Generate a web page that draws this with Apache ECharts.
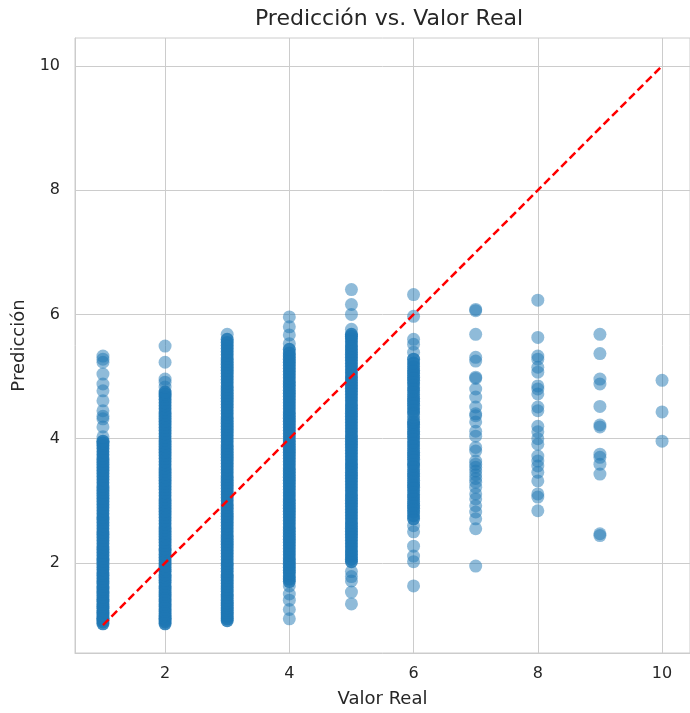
<!DOCTYPE html>
<html>
<head>
<meta charset="utf-8">
<script src="https://cdn.jsdelivr.net/npm/echarts@6/dist/echarts.min.js"></script>
<style>
  html, body { margin: 0; padding: 0; background: #fff; }
  #chart { width: 690px; height: 713px; }
</style>
</head>
<body>
<div id="chart"></div>
<script>
  const realValues = [1, 2, 3, 4, 5, 6, 7, 8, 9, 10];
  // bandas densas de cada columna (miles de puntos solapados en el original)
  const dense1 = [1.02,1.05,1.08,1.1,1.13,1.16,1.2,1.23,1.27,1.3,1.34,1.38,1.41,1.45,1.5,1.54,1.58,1.62,1.67,1.71,
    1.75,1.8,1.84,1.89,1.93,1.98,2.03,2.07,2.12,2.17,2.22,2.26,2.31,2.36,2.41,2.46,2.5,2.55,2.6,2.65,2.7,2.74,
    2.79,2.84,2.89,2.94,2.99,3.04,3.09,3.14,3.19,3.24,3.29,3.34,3.39,3.44,3.49,3.54,3.59,3.64,3.69,3.74,3.79,
    3.84,3.89,3.93,3.96];
  const dense2 = [1.02,1.05,1.08,1.11,1.15,1.18,1.22,1.26,1.3,1.34,1.38,1.42,1.46,1.5,1.55,1.59,1.63,1.68,1.72,
    1.77,1.81,1.86,1.9,1.95,2.0,2.04,2.09,2.14,2.19,2.23,2.28,2.33,2.38,2.43,2.48,2.53,2.58,2.63,2.68,2.73,2.78,
    2.83,2.88,2.93,2.98,3.03,3.08,3.13,3.18,3.23,3.28,3.33,3.38,3.43,3.48,3.53,3.58,3.63,3.68,3.73,3.78,3.83,
    3.88,3.93,3.98,4.03,4.08,4.13,4.18,4.23,4.28,4.33,4.38,4.43,4.48,4.53,4.58,4.63,4.68,4.72,4.75];
  const dense3 = [1.07,1.1,1.13,1.16,1.2,1.24,1.28,1.32,1.36,1.4,1.45,1.49,1.54,1.58,1.63,1.67,1.72,1.77,1.81,
    1.86,1.91,1.96,2.0,2.05,2.1,2.15,2.2,2.25,2.3,2.35,2.4,2.45,2.5,2.55,2.6,2.65,2.7,2.75,2.8,2.85,2.9,2.95,
    3.0,3.05,3.1,3.15,3.2,3.25,3.3,3.35,3.4,3.45,3.5,3.55,3.6,3.65,3.7,3.75,3.8,3.85,3.9,3.95,4.0,4.05,4.1,
    4.15,4.2,4.25,4.3,4.35,4.4,4.45,4.5,4.55,4.6,4.65,4.7,4.75,4.8,4.85,4.9,4.95,5.0,5.05,5.1,5.15,5.2,5.25,
    5.3,5.35,5.4,5.45,5.5,5.55,5.6];
  const dense4 = [1.7,1.74,1.79,1.84,1.88,1.93,1.98,2.03,2.08,2.13,2.18,2.23,2.28,2.33,
    2.38,2.43,2.48,2.53,2.58,2.63,2.68,2.73,2.78,2.83,2.88,2.93,2.98,3.03,3.08,3.13,3.18,3.23,3.28,3.33,3.38,
    3.43,3.48,3.53,3.58,3.63,3.68,3.73,3.78,3.83,3.88,3.93,3.98,4.03,4.08,4.13,4.18,4.23,4.28,4.33,4.38,4.43,
    4.48,4.53,4.58,4.63,4.68,4.73,4.78,4.83,4.88,4.93,4.98,5.03,5.08,5.13,5.18,5.23,5.28,5.33,5.38,5.44];
  const dense5 = [2.02,2.06,2.11,2.16,2.21,2.26,2.31,2.36,2.41,2.46,2.51,2.56,2.61,
    2.66,2.71,2.76,2.81,2.86,2.91,2.96,3.01,3.06,3.11,3.16,3.21,3.26,3.31,3.36,3.41,3.46,3.51,3.56,3.61,3.66,
    3.71,3.76,3.81,3.86,3.91,3.96,4.01,4.06,4.11,4.16,4.21,4.26,4.31,4.36,4.41,4.46,4.51,4.56,4.61,4.66,4.71,
    4.76,4.81,4.86,4.91,4.96,5.01,5.06,5.11,5.16,5.21,5.26,5.31,5.36,5.41,5.46,5.51,5.56,5.61,5.65,5.68];
  const dense6 = [2.71,2.76,2.82,2.88,2.93,2.99,3.05,3.1,3.16,3.22,3.27,3.33,3.39,
    3.44,3.5,3.56,3.61,3.67,3.73,3.78,3.84,3.9,3.95,4.01,4.07,4.12,4.18,4.23,4.27,4.43,4.48,4.54,4.6,
    4.65,4.71,4.77,4.82,4.88,4.94,4.99,5.05,5.1,5.16,5.22,5.28];
  // puntos sueltos fuera de las bandas
  const sparse1 = [4.03,4.19,4.32,4.36,4.45,4.61,4.77,4.88,5.04,5.23,5.28,5.33];
  const sparse2 = [4.83,4.91,4.96,5.23,5.49];
  const sparse3 = [5.68];
  const sparse4 = [1.1,1.25,1.4,1.5,1.63,5.53,5.67,5.8,5.96];
  const sparse5 = [1.34,1.53,1.71,1.78,1.86,5.76,6.0,6.16,6.4];
  const sparse6 = [1.63,2.02,2.11,2.27,2.5,2.6,4.31,4.35,4.39,5.39,5.52,5.6,5.97,6.32];
  const sparse7 = [1.95,2.55,2.71,2.82,2.92,3.03,3.11,3.22,3.3,3.36,3.42,3.48,3.54,3.59,3.64,3.8,3.86,4.04,
    4.12,4.27,4.37,4.4,4.51,4.67,4.8,4.97,4.99,5.25,5.31,5.68,6.06,6.08];
  const sparse8 = [2.84,3.06,3.11,3.32,3.46,3.56,3.64,3.72,3.91,4.0,4.11,4.2,4.45,4.51,4.72,4.8,4.85,5.07,5.15,
    5.28,5.33,5.63,6.23];
  const sparse9 = [2.44,2.47,3.43,3.59,3.7,3.75,4.19,4.22,4.52,4.88,4.96,5.37,5.68];
  const sparse10 = [3.96,4.43,4.94];
  const denseCols = [dense1, dense2, dense3, dense4, dense5, dense6, [], [], [], []];
  const sparseCols = [sparse1, sparse2, sparse3, sparse4, sparse5, sparse6, sparse7, sparse8, sparse9, sparse10];
  const yTicks = [2, 4, 6, 8, 10];
  const xTicks = [2, 4, 6, 8, 10];
  const idealLine = [[1, 1], [10, 10]];

  let densePoints = [];
  let sparsePoints = [];
  realValues.forEach((rv, i) => {
    denseCols[i].forEach(p => { densePoints.push([rv, p]); });
    sparseCols[i].forEach(p => { sparsePoints.push([rv, p]); });
  });

  const font = 'DejaVu Sans';
  const chart = echarts.init(document.getElementById('chart'), null, { renderer: 'canvas' });
  const option = {
    animation: false,
    backgroundColor: '#ffffff',
    title: {
      text: 'Predicción vs. Valor Real',
      left: 384,
      top: 3,
      textAlign: 'center',
      textStyle: { fontFamily: font, fontSize: 22, fontWeight: 'normal', color: '#262626' }
    },
    grid: { left: 75, right: -3, top: 38, bottom: 58, show: true, borderColor: '#cccccc', borderWidth: 1 },
    xAxis: {
      type: 'value',
      min: 0.55,
      max: 10.45,
      name: 'Valor Real',
      nameLocation: 'middle',
      nameGap: 37,
      nameTextStyle: { fontFamily: font, fontSize: 18, color: '#262626' },
      axisLine: { show: true, lineStyle: { color: '#cccccc', width: 1 } },
      axisTick: { show: false, customValues: xTicks },
      axisLabel: { customValues: xTicks, margin: 13, fontFamily: font, fontSize: 16, color: '#262626' },
      splitLine: { show: true, lineStyle: { color: '#cccccc', width: 1 } }
    },
    yAxis: {
      type: 'value',
      min: 0.55,
      max: 10.45,
      name: 'Predicción',
      nameLocation: 'middle',
      nameGap: 44,
      nameTextStyle: { fontFamily: font, fontSize: 18, color: '#262626' },
      axisLine: { show: true, lineStyle: { color: '#cccccc', width: 1 } },
      axisTick: { show: false, customValues: yTicks },
      axisLabel: { customValues: yTicks, margin: 15, fontFamily: font, fontSize: 16, color: '#262626' },
      splitLine: { show: true, lineStyle: { color: '#cccccc', width: 1 } }
    },
    series: [
      {
        type: 'scatter',
        data: densePoints,
        symbolSize: 13,
        itemStyle: { color: '#1f77b4', opacity: 0.85 },
        z: 2
      },
      {
        type: 'scatter',
        data: sparsePoints,
        symbolSize: 13,
        itemStyle: { color: '#1f77b4', opacity: 0.5 },
        z: 2
      },
      {
        type: 'line',
        data: idealLine,
        symbol: 'none',
        lineStyle: { color: '#ff0000', width: 2.5, type: [8, 4] },
        z: 3
      }
    ]
  };
  chart.setOption(option);
</script>
</body>
</html>
